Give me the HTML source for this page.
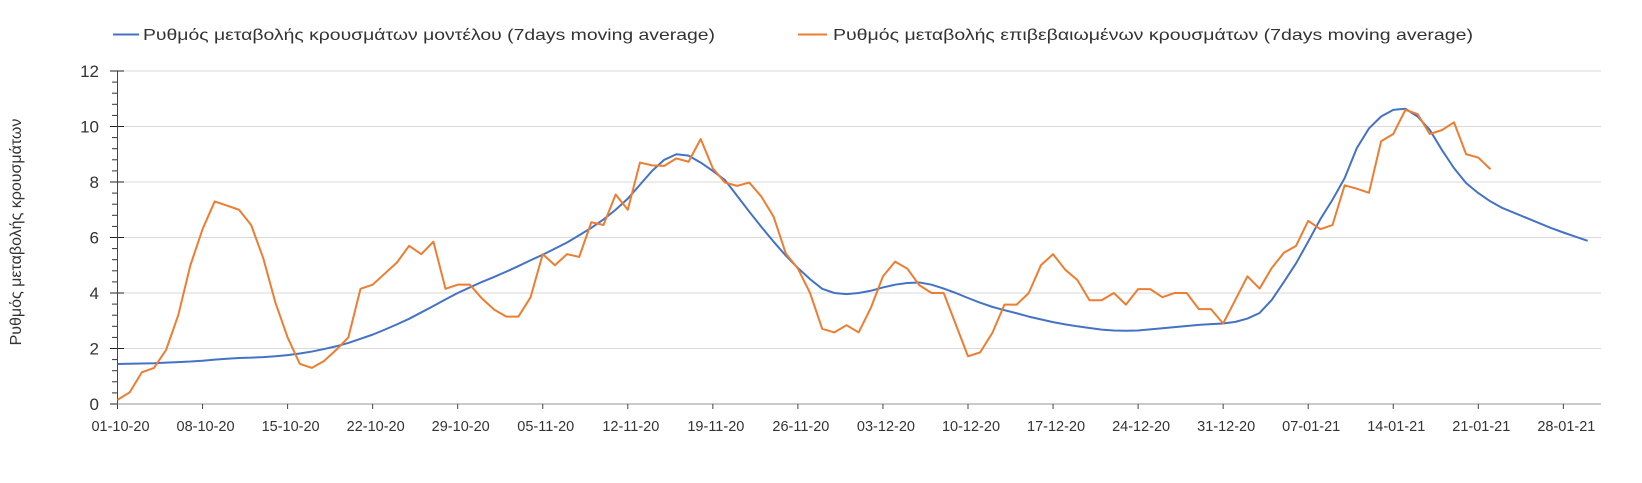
<!DOCTYPE html>
<html><head><meta charset="utf-8"><style>
html,body{margin:0;padding:0;background:#fff;}
svg{display:block;font-family:"Liberation Sans",sans-serif;}
</style></head><body>
<svg id="chart" width="1642" height="483" viewBox="0 0 1642 483" xmlns="http://www.w3.org/2000/svg">
  <g id="grid"></g>
  <g id="yaxis"></g>
  <g id="xaxis"></g>
  <g id="series"></g>
  <text transform="translate(21,232) rotate(-90)" text-anchor="middle" font-size="16" fill="#333">Ρυθμός μεταβολής κρουσμάτων</text>
  <g>
    <g>
      <line x1="113" y1="34.5" x2="139" y2="34.5" stroke="#4472c4" stroke-width="2"/>
      <text x="143" y="40" font-size="16" fill="#333" textLength="572" lengthAdjust="spacingAndGlyphs">Ρυθμός μεταβολής κρουσμάτων μοντέλου (7days moving average)</text>
    </g>
    <g>
      <line x1="798" y1="34.5" x2="827" y2="34.5" stroke="#ed7d31" stroke-width="2"/>
      <text x="833" y="40" font-size="16" fill="#333" textLength="640" lengthAdjust="spacingAndGlyphs">Ρυθμός μεταβολής επιβεβαιωμένων κρουσμάτων (7days moving average)</text>
    </g>
  </g>
</svg>
<script>
const xTickLabels = ["01-10-20","08-10-20","15-10-20","22-10-20","29-10-20","05-11-20","12-11-20","19-11-20","26-11-20","03-12-20","10-12-20","17-12-20","24-12-20","31-12-20","07-01-21","14-01-21","21-01-21","28-01-21"];
const yTicks = [0,2,4,6,8,10,12];
const modelSeries = [1.44,1.45,1.46,1.47,1.49,1.51,1.53,1.56,1.6,1.63,1.66,1.67,1.69,1.72,1.76,1.82,1.89,1.98,2.08,2.2,
2.35,2.5,2.68,2.87,3.07,3.3,3.53,3.77,4.0,4.2,4.4,4.58,4.77,4.97,5.18,5.38,5.6,5.82,6.08,6.35,
6.65,7.0,7.4,7.9,8.4,8.8,9.0,8.95,8.7,8.4,8.07,7.5,6.93,6.38,5.85,5.35,4.9,4.5,4.15,4.0,
3.96,4.0,4.08,4.2,4.3,4.36,4.38,4.3,4.16,4.0,3.82,3.65,3.5,3.38,3.27,3.15,3.05,2.95,2.87,2.8,
2.74,2.68,2.65,2.64,2.65,2.69,2.73,2.77,2.81,2.85,2.88,2.9,2.96,3.08,3.28,3.75,4.4,5.07,5.85,6.66,
7.36,8.14,9.22,9.93,10.36,10.6,10.64,10.36,9.88,9.16,8.5,7.96,7.6,7.3,7.06,6.88,6.7,6.52,6.34,6.18,
6.03,5.88];
const confirmedSeries = [0.15,0.42,1.14,1.3,1.95,3.2,5.0,6.3,7.3,7.15,7.0,6.45,5.25,3.65,2.4,1.45,1.3,1.55,1.95,2.4,
4.15,4.3,4.7,5.1,5.7,5.4,5.85,4.15,4.3,4.3,3.8,3.4,3.15,3.15,3.85,5.4,5.0,5.4,5.3,6.55,
6.45,7.55,7.0,8.7,8.6,8.58,8.85,8.73,9.55,8.49,7.98,7.86,7.98,7.47,6.75,5.43,4.88,4.0,2.71,2.58,
2.84,2.58,3.46,4.6,5.13,4.88,4.28,4.0,4.0,2.86,1.72,1.86,2.56,3.58,3.58,4.0,5.0,5.4,4.84,4.47,
3.74,3.74,4.0,3.58,4.14,4.14,3.85,4.0,4.0,3.42,3.42,2.9,3.75,4.6,4.16,4.9,5.45,5.7,6.6,6.3,
6.45,7.88,7.76,7.61,9.47,9.73,10.6,10.45,9.73,9.87,10.15,9.0,8.88,8.46];

const NS = "http://www.w3.org/2000/svg";
const X0 = 117.5, DAY = 12.15, Y0 = 404, UNIT = 27.75, XEND = 1601;
function xScale(d){ return X0 + d*DAY; }
function yScale(v){ return Y0 - v*UNIT; }
function mk(tag, attrs, parent){ const e=document.createElementNS(NS,tag); for(const k in attrs) e.setAttribute(k,attrs[k]); parent.appendChild(e); return e; }

const grid=document.getElementById('grid'), yaxis=document.getElementById('yaxis'), xaxis=document.getElementById('xaxis'), series=document.getElementById('series');

yTicks.forEach(v=>{
  const y=yScale(v);
  if(v>0){
    const g=mk('line',{x1:X0,y1:y,x2:XEND,y2:y,stroke:'#d9d9d9','stroke-width':1},grid);
    
    
  }
  const t=mk('line',{x1:110,y1:y,x2:124,y2:y,stroke:'#222','stroke-width':1},yaxis);
  
  
  const lb=mk('text',{x:99,y:y+6,'text-anchor':'end','font-size':17,fill:'#333'},yaxis);
  lb.textContent=v;
  
  
});
for(let v=0.4; v<12; v+=0.4){
  if(Math.abs(v/2-Math.round(v/2))<0.01) continue;
  const y=yScale(v);
  const t=mk('line',{x1:112,y1:y,x2:117.5,y2:y,stroke:'#333','stroke-width':1},yaxis);
  
  
}
const ya=mk('line',{x1:X0,y1:yScale(12),x2:X0,y2:Y0,stroke:'#444','stroke-width':1},yaxis);



const xa=mk('line',{x1:X0,y1:Y0,x2:XEND,y2:Y0,stroke:'#aaa','stroke-width':1.2},xaxis);


xTickLabels.forEach((s,i)=>{
  const x=xScale(i*7);
  const t=mk('line',{x1:x,y1:Y0,x2:x,y2:Y0+5,stroke:'#444','stroke-width':1},xaxis);
  
  
  const lb=mk('text',{x:x+3,y:Y0+27,'text-anchor':'middle','font-size':14.5,fill:'#333'},xaxis);
  lb.textContent=s;
  
  
});

function path(arr){ return arr.map((v,i)=>(i?'L':'M')+xScale(i).toFixed(2)+','+yScale(v).toFixed(2)).join(''); }
const pm=mk('path',{d:path(modelSeries),fill:'none',stroke:'#4472c4','stroke-width':2,'stroke-linejoin':'round'},series);


const pc=mk('path',{d:path(confirmedSeries),fill:'none',stroke:'#ed7d31','stroke-width':2,'stroke-linejoin':'round'},series);


</script>
</body></html>
